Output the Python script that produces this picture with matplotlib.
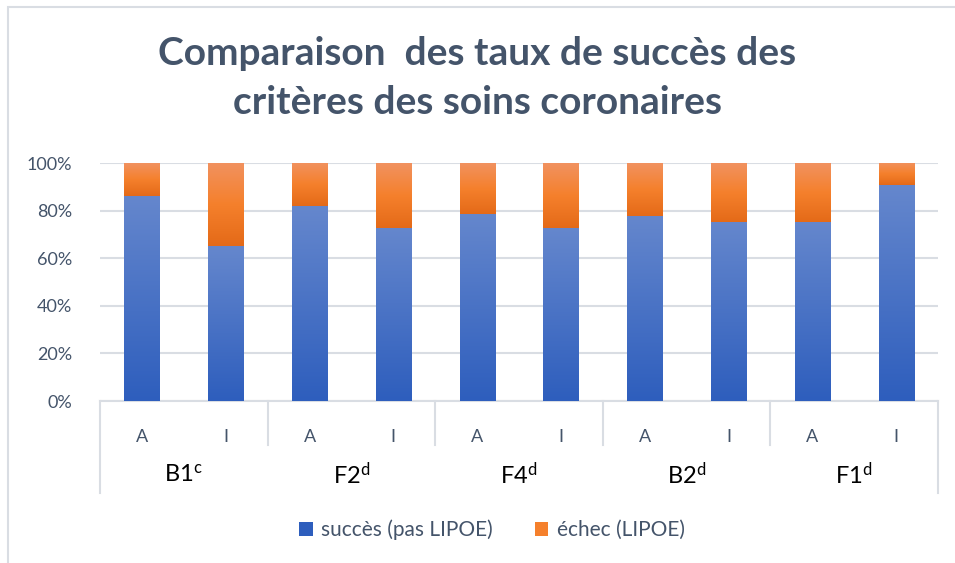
import numpy as np
import matplotlib
matplotlib.use("Agg")
import matplotlib.pyplot as plt
from matplotlib.colors import LinearSegmentedColormap
import matplotlib.patches as patches

plt.rcParams['font.family'] = ['Lato', 'DejaVu Sans']
plt.rcParams['mathtext.fontset'] = 'custom'
plt.rcParams['mathtext.rm'] = 'Lato'
plt.rcParams['mathtext.it'] = 'Lato'

# data (percent)
groups = ['B1', 'F2', 'F4', 'B2', 'F1']
group_sup = ['c', 'd', 'd', 'd', 'd']
sub_labels = ['A', 'I']
succes = [86.3, 65.1, 81.9, 72.8, 78.7, 72.8, 77.9, 75.3, 75.3, 90.6]
echec = [100 - v for v in succes]
series_names = ['succès (pas LIPOE)', 'échec (LIPOE)']

title = 'Comparaison  des taux de succès des\ncritères des soins coronaires'
yticks = [0, 20, 40, 60, 80, 100]

text_col = '#44546A'
grid_col = '#D9DDE3'
blue_top, blue_bot = '#6587CD', '#2E5EBD'
orange_top, orange_mid, orange_bot = '#F19260', '#F5802C', '#E46A18'

W, H = 955, 563
fig = plt.figure(figsize=(W / 100, H / 100), dpi=100)
ax = fig.add_axes([100 / W, 1 - 401 / H, 838 / W, 238 / H])

x = np.arange(len(succes))
bw = 0.42
b1 = ax.bar(x, succes, bw, color=blue_bot, label=series_names[0], zorder=2)
b2 = ax.bar(x, echec, bw, bottom=succes, color=orange_mid, label=series_names[1], zorder=2)

# vertical gradient like the Excel fill
cm_blue = LinearSegmentedColormap.from_list('b', [blue_bot, blue_top])
cm_orange = LinearSegmentedColormap.from_list('o', [orange_bot, orange_mid, orange_top])
grad = np.linspace(0, 1, 256).reshape(-1, 1)
for bars, cmap in [(b1, cm_blue), (b2, cm_orange)]:
    for p in bars:
        x0, y0 = p.get_x(), p.get_y()
        ax.imshow(grad, cmap=cmap, origin='lower', aspect='auto', zorder=3,
                  extent=[x0, x0 + p.get_width(), y0, y0 + p.get_height()])

ax.set_xlim(-0.5, len(succes) - 0.5)
ax.set_ylim(0, 100)
ax.set_yticks(yticks)
ax.set_yticklabels([f'{v}%' for v in yticks])
ax.yaxis.grid(True, color=grid_col, lw=1.5, zorder=0)
ax.set_axisbelow(True)
for s in ['top', 'right', 'left']:
    ax.spines[s].set_visible(False)
ax.spines['bottom'].set_color(grid_col)
ax.spines['bottom'].set_linewidth(1.5)
ax.tick_params(axis='y', length=0, labelsize=13, labelcolor=text_col, pad=20)
ax.set_xticks(x)
ax.set_xticklabels(sub_labels * len(groups))
ax.tick_params(axis='x', length=0, labelsize=13, labelcolor=text_col, pad=20)

# hierarchical category axis
tr = ax.get_xaxis_transform()
bounds = np.arange(-0.5, len(succes), 2)
for i, b in enumerate(bounds):
    low = -0.387 if i in (0, len(bounds) - 1) else -0.185
    ax.plot([b, b], [0, low], transform=tr, color=grid_col, lw=1.5, clip_on=False)
for i, g in enumerate(groups):
    ax.text(2 * i + 0.5, -0.31, f'{g}$^{{\\mathrm{{{group_sup[i]}}}}}$', transform=tr,
            ha='center', va='center', fontsize=17, color='black')

fig.text(0.5, 1 - 78 / H, title, ha='center', va='center', fontsize=28,
         fontweight='bold', color=text_col, linespacing=1.5)

fig.legend(handles=[b1, b2], labels=series_names, loc='center',
           bbox_to_anchor=(492 / W, 1 - 530 / H), ncol=2, frameon=False,
           fontsize=15, labelcolor=text_col, handlelength=0.65, handleheight=0.65,
           columnspacing=2.0, handletextpad=0.4)

fig.patches.append(patches.Rectangle((8 / W, -0.1), 2, (H - 7) / H + 0.1,
                                     transform=fig.transFigure, fill=False,
                                     edgecolor=grid_col, lw=1.5))

fig.savefig('out.png', dpi=100)
